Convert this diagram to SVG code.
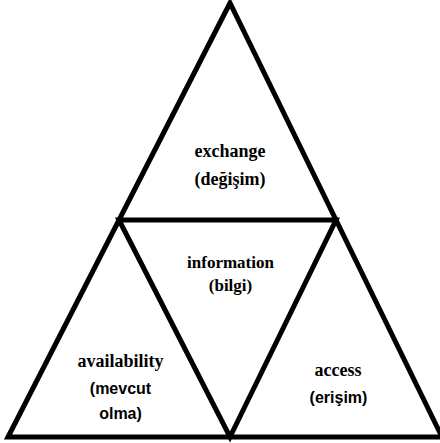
<svg xmlns="http://www.w3.org/2000/svg" width="440" height="443" viewBox="0 0 440 443">
<style>
.ln{fill:none;stroke:#000;stroke-width:5;stroke-linejoin:miter}
.sf{font-family:'Liberation Serif','Times New Roman',Times,serif;font-weight:bold;font-size:18px;fill:#000;text-anchor:middle}
.ss{font-family:'Liberation Sans',Arial,sans-serif;font-weight:bold;font-size:16px;fill:#000;text-anchor:middle}
</style>
<rect width="440" height="443" fill="#fff"/>
<g id="connectors">
<polygon class="ln" points="230,3 8,437 442,437"/>
<polygon class="ln" points="119,220 336,220 230,437"/>
</g>
<g id="exchange">
<text class="sf" x="230" y="157">exchange</text>
<text class="sf" x="230" y="185">(değişim)</text>
</g>
<g id="information">
<text class="sf" x="230.5" y="268" style="font-size:17px">information</text>
<text class="sf" x="230.5" y="291" style="font-size:17px">(bilgi)</text>
</g>
<g id="availability">
<text class="sf" x="120.5" y="367">availability</text>
<text class="ss" x="120.5" y="394">(mevcut</text>
<text class="ss" x="120.5" y="419">olma)</text>
</g>
<g id="access">
<text class="sf" x="338" y="376">access</text>
<text class="ss" x="338.5" y="403">(erişim)</text>
</g>
</svg>
